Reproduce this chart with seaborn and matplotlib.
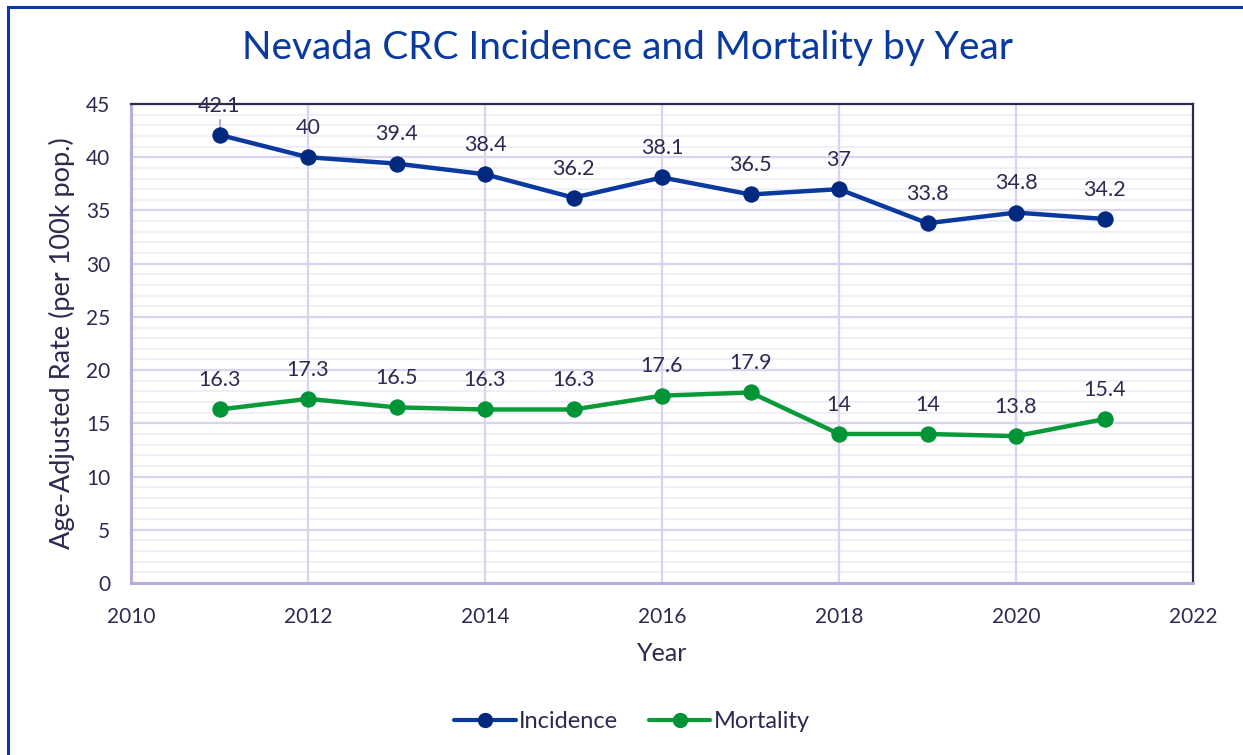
import matplotlib
matplotlib.use("Agg")
import matplotlib.pyplot as plt
from matplotlib.patches import Rectangle
from matplotlib.lines import Line2D
from matplotlib.ticker import MultipleLocator
import seaborn as sns
import pandas as pd

years = [2011, 2012, 2013, 2014, 2015, 2016, 2017, 2018, 2019, 2020, 2021]
incidence = [42.1, 40, 39.4, 38.4, 36.2, 38.1, 36.5, 37, 33.8, 34.8, 34.2]
mortality = [16.3, 17.3, 16.5, 16.3, 16.3, 17.6, 17.9, 14, 14, 13.8, 15.4]
series_names = ["Incidence", "Mortality"]
x_ticks = [2010, 2012, 2014, 2016, 2018, 2020, 2022]
y_ticks = [0, 5, 10, 15, 20, 25, 30, 35, 40, 45]

TEXT = "#2e2a4f"
BLUE = "#0a3a9e"
BLUE_M = "#00297f"
GREEN = "#0a9a3a"
GREEN_M = "#009436"
MAJ = "#d9d3ee"
MIN = "#efedf7"

sns.set_theme(style="white")
plt.rcParams["font.family"] = ["Lato", "DejaVu Sans"]

df = pd.DataFrame({
    "Year": years * 2,
    "Rate": incidence + mortality,
    "Series": [series_names[0]] * len(years) + [series_names[1]] * len(years),
})

fig = plt.figure(figsize=(12.43, 7.55), dpi=100)
ax = fig.add_axes([131 / 1243, 1 - 583 / 755, (1193 - 131) / 1243, (583 - 104) / 755])

# outer frame
fig.patches.append(Rectangle((8 / 1243, -0.05), 1.1, 1 - 7 / 755 + 0.05,
                             transform=fig.transFigure, fill=False,
                             edgecolor="#0a3aa8", linewidth=2.2, zorder=0))

sns.lineplot(data=df, x="Year", y="Rate", hue="Series",
             palette={"Incidence": BLUE, "Mortality": GREEN},
             marker="o", markersize=11, linewidth=3.2, ax=ax, legend=False,
             zorder=5)
for line, mc in zip(ax.lines, [BLUE_M, GREEN_M]):
    line.set_markerfacecolor(mc)
    line.set_markeredgecolor(mc)

# leader line for first label
ax.plot([years[0], years[0]], [incidence[0], incidence[0] + 1.4],
        color="#b9acd9", lw=1.5, zorder=4)

for yr, v in zip(years, incidence):
    ax.annotate(f"{v:g}", (yr, v), xytext=(0, 21), textcoords="offset points",
                ha="center", va="center", fontsize=15.5, color=TEXT, zorder=6)
for yr, v in zip(years, mortality):
    ax.annotate(f"{v:g}", (yr, v), xytext=(0, 21), textcoords="offset points",
                ha="center", va="center", fontsize=15.5, color=TEXT, zorder=6)

ax.set_xlim(x_ticks[0], x_ticks[-1])
ax.set_ylim(y_ticks[0], y_ticks[-1])
ax.set_xticks(x_ticks)
ax.set_yticks(y_ticks)
ax.yaxis.set_minor_locator(MultipleLocator(1))
ax.grid(which="major", axis="y", color=MAJ, linewidth=1.6, zorder=0)
ax.grid(which="minor", axis="y", color=MIN, linewidth=1.3, zorder=0)
ax.set_axisbelow(True)
# vertical gridlines at the x ticks, drawn above the horizontal ones
for xt in x_ticks[1:-1]:
    ax.axvline(xt, color=MAJ, linewidth=1.6, zorder=1)
ax.tick_params(axis="both", which="both", length=0, labelsize=15,
               labelcolor=TEXT)
ax.tick_params(axis="x", pad=17)
ax.tick_params(axis="y", pad=15)

for side in ["top", "right"]:
    ax.spines[side].set_color(TEXT)
    ax.spines[side].set_linewidth(1.6)
for side in ["left", "bottom"]:
    ax.spines[side].set_color("#b9acd9")
    ax.spines[side].set_linewidth(2.2)

ax.set_xlabel("Year", fontsize=18, color=TEXT, labelpad=11)
ax.set_ylabel("Age-Adjusted Rate (per 100k pop.)", fontsize=19.5, color=TEXT,
              labelpad=8)

fig.text(628 / 1243, 1 - 48 / 755, "Nevada CRC Incidence and Mortality by Year",
         ha="center", va="center", fontsize=28, color=BLUE)

handles = [Line2D([0], [0], color=BLUE, lw=3, marker="o", markersize=10,
                  markerfacecolor=BLUE_M, markeredgecolor=BLUE_M),
           Line2D([0], [0], color=GREEN, lw=3, marker="o", markersize=10,
                  markerfacecolor=GREEN_M, markeredgecolor=GREEN_M)]
fig.legend(handles, series_names, loc="center", bbox_to_anchor=(632 / 1243, 1 - 722 / 755),
           ncol=2, frameon=False, fontsize=17, labelcolor=TEXT,
           handlelength=2.6, handletextpad=0.15, columnspacing=1.3)

fig.savefig("out.png", dpi=100)
